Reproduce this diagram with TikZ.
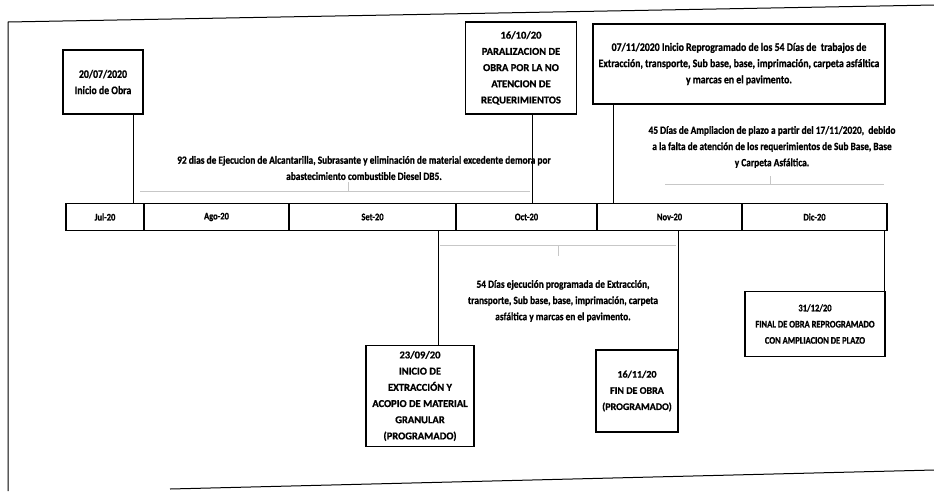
\documentclass[tikz,border=0pt]{standalone}
\usepackage{fontspec}
\newfontfamily\scanfont{Carlito}[FakeStretch=0.85, BoldFeatures={FakeBold=0.8}]
\newfontfamily\scanwide{Carlito}[BoldFeatures={FakeBold=0.8}]
\usetikzlibrary{positioning}
\tikzset{
  hito box/.style={rectangle, draw, line width=1.3pt, align=center, inner sep=1pt},
  mes cell/.style={rectangle, draw, line width=1.6pt, minimum height=27pt, outer sep=0pt, inner sep=0pt, font=\scanfont\bfseries\fontsize{10}{11}\selectfont},
  nota/.style={align=center, inner sep=0pt, font=\scanfont\bfseries\fontsize{11}{16.2}\selectfont},
  guia/.style={draw=black!22, line width=1pt},
  conector/.style={line width=0.9pt}
}
\newcommand\letra[2]{#1\bfseries\fontsize{#2}{16.2}\selectfont}
\begin{document}
\begin{tikzpicture}[x=1pt, y=-1pt]
    \useasboundingbox (0,0) rectangle (934,491);

    % Marco
    \draw [line width=1pt] (8,491) -- (8,22) -- (934,5);
    \draw [line width=1pt] (170,489) -- (934,470);

    % Barra de meses
    \node [mes cell, minimum width=78pt, anchor=west] (jul) at (66,217) {Jul-20};
    \node [mes cell, minimum width=145pt, right=0pt of jul] (ago) {Ago-20};
    \node [mes cell, minimum width=167pt, right=0pt of ago] (set) {Set-20};
    \node [mes cell, minimum width=141pt, right=0pt of set] (oct) {Oct-20};
    \node [mes cell, minimum width=145pt, right=0pt of oct] (nov) {Nov-20};
    \node [mes cell, minimum width=145pt, right=0pt of nov] (dic) {Dic-20};

    % Hitos arriba
    \node [hito box, minimum width=80pt, minimum height=64pt, font=\letra\scanfont{11.5}] (inicio) at (103,82) {20/07/2020\\Inicio de Obra};
    \node [hito box, minimum width=111pt, minimum height=92pt, font=\letra\scanwide{10.5}] (paral) at (521,68) {16/10/20\\PARALIZACION DE\\OBRA POR LA NO\\ATENCION DE\\REQUERIMIENTOS};
    \node [hito box, minimum width=292pt, minimum height=80pt, font=\letra\scanfont{11.5}] (reprog) at (739,64) {07/11/2020 Inicio Reprogramado de los 54 Días de \ trabajos de\\Extracción, transporte, Sub base, base, imprimación, carpeta asfáltica\\y marcas en el pavimento.};

    % Hitos abajo
    \node [hito box, minimum width=108pt, minimum height=101pt, font=\letra\scanwide{10.5}] (extr) at (420,396) {23/09/20\\INICIO DE\\EXTRACCIÓN Y\\ACOPIO DE MATERIAL\\GRANULAR\\(PROGRAMADO)};
    \node [hito box, minimum width=82pt, minimum height=82pt, font=\letra\scanwide{10}] (fin) at (637,391) {16/11/20\\FIN DE OBRA\\(PROGRAMADO)};
    \node [hito box, minimum width=140pt, minimum height=65pt, font=\letra\scanfont{10}] (final) at (815,324) {31/12/20\\FINAL DE OBRA REPROGRAMADO\\CON AMPLIACION DE PLAZO};

    % Notas
    \node [nota] (n92) at (364,168) {92 dias de Ejecucion de Alcantarilla, Subrasante y eliminación de material excedente demora por\\abastecimiento combustible Diesel DB5.};
    \node [nota] (n45) at (772,147) {45 Días de Ampliacion de plazo a partir del 17/11/2020, \ debido\\a la falta de atención de los requerimientos de Sub Base, Base\\y Carpeta Asfáltica.};
    \node [nota] (n54) at (563,301) {54 Días ejecución programada de Extracción,\\transporte, Sub base, base, imprimación, carpeta\\asfáltica y marcas en el pavimento.};

    % Conectores
    \coordinate (c1) at (133,0);
    \coordinate (c2) at (532,0);
    \coordinate (c3) at (613,0);
    \coordinate (c4) at (438,0);
    \coordinate (c5) at (678,0);
    \coordinate (c6) at (884,0);
    \draw [conector] (inicio.south -| c1) -- (jul.north -| c1);
    \draw [conector] (paral.south -| c2) -- (oct.north -| c2);
    \draw [conector] (reprog.south -| c3) -- (nov.north -| c3);
    \draw [conector] (set.south -| c4) -- (extr.north -| c4);
    \draw [conector] (nov.south -| c5) -- (fin.north -| c5);
    \draw [conector] (dic.south -| c6) -- (final.north -| c6);

    % Guias tenues
    \draw [guia] (140,191) -- (530,191);
    \draw [guia] (348,191) -- (348,182);
    \draw [guia] (665,184) -- (884,184);
    \draw [guia] (770,184) -- (770,176);
    \draw [guia] (440,245) -- (676,245);
    \draw [guia] (558,245) -- (558,256);
\end{tikzpicture}
\end{document}
